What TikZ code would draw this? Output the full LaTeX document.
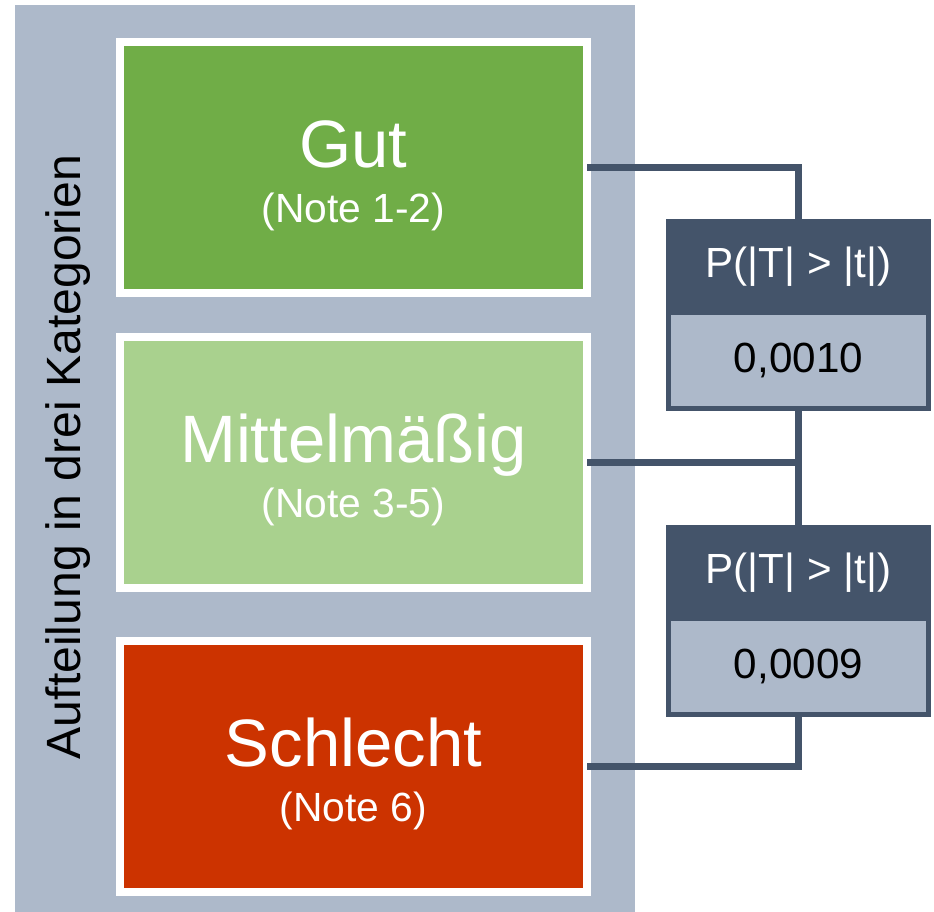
\documentclass[tikz,border=0pt]{standalone}
\usepackage{fontspec}
\setmainfont{Liberation Sans}
\usetikzlibrary{positioning}
\definecolor{panelgray}{HTML}{ADB9CA}
\definecolor{slate}{HTML}{44546A}
\definecolor{gutgreen}{HTML}{70AD47}
\definecolor{mittelgreen}{HTML}{A9D18E}
\definecolor{schlechtred}{HTML}{CC3300}
\newcommand{\bigtxt}{\fontsize{47.7}{52}\selectfont}
\newcommand{\smalltxt}{\fontsize{30}{36}\selectfont}
\tikzset{
  basic/.style  = {rectangle, outer sep=0pt, inner sep=0pt, align=center},
  grade/.style  = {basic, draw=white, line width=0.2cm, text=white,
                   minimum width=11.675cm, minimum height=6.275cm,
                   text height=4.25cm, text depth=1.5cm,
                   font=\fontsize{29}{39}\selectfont},
  phead/.style  = {basic, draw=slate, fill=slate, line width=0.125cm, text=white,
                   minimum width=6.5cm, minimum height=2.275cm, font=\smalltxt},
  pval/.style   = {basic, draw=slate, fill=panelgray, line width=0.125cm,
                   minimum width=6.5cm, minimum height=2.4cm, font=\smalltxt},
  link/.style   = {draw=slate, line width=0.175cm}
}

\begin{document}
\begin{tikzpicture}[x=0.025cm, y=-0.025cm]
	  \useasboundingbox (0,0) rectangle (934,912);

	  % gray panel behind the three categories
	  \fill[panelgray] (15,5) rectangle (635,912);
	  \node[rotate=90, font=\fontsize{34.2}{40}\selectfont] (title) at (68,457)
	  {Aufteilung in drei Kategorien};

	  % the three categories, stacked
	  \node[grade, fill=gutgreen] (gut) at (353.5,167.5)
	  {{\bigtxt Gut}\\(Note 1-2)};
	  \node[grade, fill=mittelgreen, below=1.1cm of gut] (mittel)
	  {{\bigtxt Mittelmäßig}\\(Note 3-5)};
	  \node[grade, fill=schlechtred, below=1.325cm of mittel] (schlecht)
	  {{\bigtxt Schlecht}\\(Note 6)};

	  % test results between neighbouring categories
	  \node[phead] (p1h) at (798.5,267) {P(|T| > |t|)};
	  \node[pval, below=0pt of p1h] (p1) {0,0010};
	  \node[phead] (p2h) at (798.5,573) {P(|T| > |t|)};
	  \node[pval, below=0pt of p2h] (p2) {0,0009};

	  % lines from the categories to the tests
	  \draw[link] (gut.east) -| (p1h.north);
	  \draw[link] (p1.south) -- (p2h.north);
	  \draw[link] (mittel.east) -- (mittel.east -| p1.south);
	  \draw[link] (schlecht.east) -| (p2.south);

\end{tikzpicture}
\end{document}
